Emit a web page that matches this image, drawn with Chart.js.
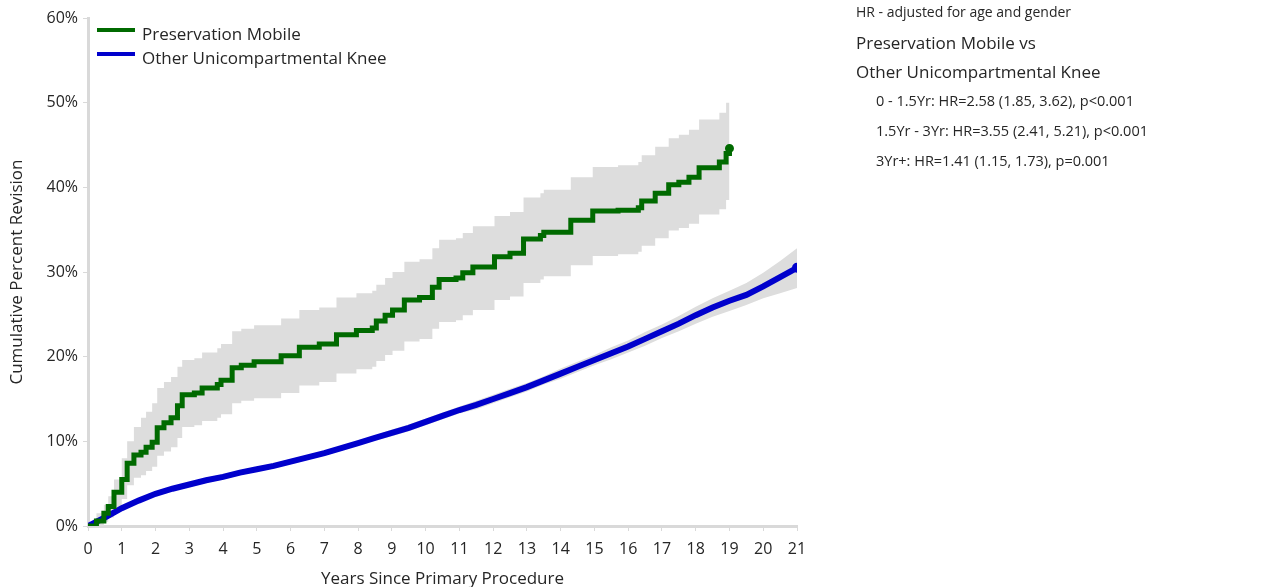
<!DOCTYPE html>
<html>
<head>
<meta charset="utf-8">
<script src="https://cdn.jsdelivr.net/npm/chart.js@4"></script>
<style>
    body { margin: 0; background: #fff; font-family: "Open Sans", sans-serif; color: #262626; }
    .wrap { position: relative; width: 1277px; height: 587px; }
    .legend { position: absolute; left: 97px; top: 22px; font-size: 17px; }
    .legend-item { position: relative; height: 24px; line-height: 24px; padding-left: 45px; white-space: nowrap; }
    .legend-item span { position: absolute; left: 0; top: 6px; width: 38px; height: 4px; }
    .notes { position: absolute; left: 856px; top: 0; white-space: nowrap; }
    .notes .small { font-size: 14px; height: 28px; line-height: 24px; }
    .notes .big { font-size: 17px; height: 29px; line-height: 29px; }
    .notes .sub { font-size: 14.5px; height: 30px; line-height: 30px; padding-left: 20px; }
</style>
</head>
<body>
<div class="wrap">
    <canvas id="revisionChart" width="1277" height="587"></canvas>
    <div class="legend">
        <div class="legend-item"><span style="background:#006a00"></span>Preservation Mobile</div>
        <div class="legend-item"><span style="background:#0000cc"></span>Other Unicompartmental Knee</div>
    </div>
    <div class="notes">
        <div class="small">HR - adjusted for age and gender</div>
        <div class="big">Preservation Mobile vs</div>
        <div class="big">Other Unicompartmental Knee</div>
        <div class="sub">0 - 1.5Yr: HR=2.58 (1.85, 3.62), p&lt;0.001</div>
        <div class="sub">1.5Yr - 3Yr: HR=3.55 (2.41, 5.21), p&lt;0.001</div>
        <div class="sub">3Yr+: HR=1.41 (1.15, 1.73), p=0.001</div>
    </div>
</div>
<script>
// Preservation Mobile (curva em degraus)
const pmYears = [0, 0.25, 0.47, 0.6, 0.77, 1.0, 1.16, 1.36, 1.57, 1.72, 1.9, 2.05, 2.25, 2.46, 2.65, 2.79, 3.15, 3.38, 3.83, 3.94,
    4.27, 4.54, 4.92, 5.72, 6.26, 6.85, 7.36, 7.95, 8.42, 8.54, 8.8, 9.02, 9.37, 9.82, 10.2, 10.4, 10.9, 11.1, 11.4, 12.04,
    12.5, 12.9, 13.4, 13.5, 14.3, 14.95, 15.7, 16.3, 16.4, 16.8, 17.2, 17.5, 17.8, 18.1, 18.7, 18.9, 19.0];
const pmValues = [0, 0.6, 1.5, 2.3, 4.0, 5.5, 7.4, 8.4, 8.7, 9.3, 9.9, 11.6, 12.2, 12.8, 14.2, 15.5, 15.7, 16.3, 16.7, 17.2,
    18.7, 19.0, 19.4, 20.1, 21.1, 21.5, 22.6, 23.1, 23.4, 24.2, 24.9, 25.5, 26.7, 27.0, 28.2, 29.1, 29.3, 29.9, 30.6, 31.8,
    32.2, 33.9, 34.3, 34.7, 36.1, 37.2, 37.3, 37.6, 38.4, 39.3, 40.3, 40.6, 41.2, 42.3, 43.0, 44.0, 44.6];
const pmUpper = [0, 1.5, 2.5, 3.5, 5.5, 8.0, 10.0, 11.7, 12.8, 13.5, 14.5, 16.3, 17.0, 17.6, 18.8, 19.6, 19.8, 20.5, 21.0, 21.5,
    23.0, 23.3, 23.7, 24.5, 25.5, 25.8, 27.0, 27.5, 27.8, 28.5, 29.3, 30.0, 31.2, 31.5, 32.8, 33.8, 34.0, 34.6, 35.4, 36.6,
    37.1, 38.8, 39.3, 39.7, 41.2, 42.4, 42.6, 43.0, 43.8, 44.8, 45.8, 46.2, 46.8, 48.0, 48.8, 50.0, 50.5];
const pmLower = [0, 0, 0.5, 1.0, 2.0, 3.2, 4.8, 5.7, 6.0, 6.5, 7.0, 8.3, 8.8, 9.3, 10.4, 11.7, 11.9, 12.4, 12.8, 13.2,
    14.5, 14.8, 15.1, 15.7, 16.6, 17.0, 18.0, 18.5, 18.8, 19.5, 20.2, 20.7, 21.8, 22.1, 23.3, 24.1, 24.3, 24.9, 25.5, 26.7,
    27.1, 28.7, 29.1, 29.5, 30.8, 31.9, 32.1, 32.4, 33.1, 34.0, 34.9, 35.2, 35.7, 36.8, 37.4, 38.5, 39.1];

// Other Unicompartmental Knee
const ukYears = [0, 0.5, 1, 1.5, 2, 2.5, 3, 3.5, 4, 4.5, 5, 5.5, 6, 6.5, 7, 7.5, 8, 8.5, 9, 9.5, 10,
    10.5, 11, 11.5, 12, 12.5, 13, 13.5, 14, 14.5, 15, 15.5, 16, 16.5, 17, 17.5, 18, 18.5, 19, 19.5, 20, 20.5, 21];
const ukValues = [0, 1.0, 2.1, 3.0, 3.8, 4.4, 4.9, 5.4, 5.8, 6.3, 6.7, 7.1, 7.6, 8.1, 8.6, 9.2, 9.8, 10.4, 11.0, 11.6, 12.3,
    13.0, 13.7, 14.3, 15.0, 15.7, 16.4, 17.2, 18.0, 18.8, 19.6, 20.4, 21.2, 22.1, 23.0, 23.9, 24.9, 25.8, 26.6, 27.3, 28.3, 29.4, 30.5];
const ukUpper = [0, 1.2, 2.4, 3.3, 4.1, 4.7, 5.2, 5.7, 6.1, 6.6, 7.0, 7.4, 7.9, 8.4, 8.9, 9.5, 10.1, 10.7, 11.4, 12.0, 12.7,
    13.4, 14.1, 14.8, 15.5, 16.2, 16.9, 17.7, 18.6, 19.4, 20.2, 21.1, 21.9, 22.9, 23.8, 24.8, 25.9, 26.9, 27.8, 28.7, 29.9, 31.3, 32.8];
const ukLower = [0, 0.8, 1.8, 2.7, 3.5, 4.1, 4.6, 5.1, 5.5, 6.0, 6.4, 6.8, 7.3, 7.8, 8.3, 8.9, 9.5, 10.1, 10.6, 11.2, 11.9,
    12.6, 13.3, 13.8, 14.5, 15.2, 15.9, 16.7, 17.4, 18.2, 19.0, 19.7, 20.5, 21.3, 22.2, 23.0, 23.9, 24.7, 25.4, 26.1, 26.9, 27.5, 28.1];

const yTicks = [0, 10, 20, 30, 40, 50, 60];
const xTicks = [0, 1, 2, 3, 4, 5, 6, 7, 8, 9, 10, 11, 12, 13, 14, 15, 16, 17, 18, 19, 20, 21];

const toPoints = (xs, ys) => xs.map((x, i) => ({ x: x, y: ys[i] }));
const axisGrey = '#d9d9d9';
const textColor = '#262626';
const font16 = { family: '"Open Sans", sans-serif', size: 16 };
const font17 = { family: '"Open Sans", sans-serif', size: 17 };

const ctx = document.getElementById('revisionChart').getContext('2d');
const revisionChart = new Chart(ctx, {
    type: 'line',
    data: {
        datasets: [
            {
                label: 'Preservation Mobile',
                data: toPoints(pmYears, pmValues),
                borderColor: '#006a00',
                backgroundColor: '#006a00',
                borderWidth: 5,
                stepped: true,
                pointRadius: c => c.dataIndex === pmYears.length - 1 ? 2 : 0,
                fill: false
            },
            {
                label: 'Other Unicompartmental Knee',
                data: toPoints(ukYears, ukValues),
                borderColor: '#0000cc',
                backgroundColor: '#0000cc',
                borderWidth: 6,
                tension: 0,
                pointRadius: c => c.dataIndex === ukYears.length - 1 ? 2 : 0,
                fill: false
            },
            {
                data: toPoints(pmYears, pmLower),
                borderWidth: 0,
                pointRadius: 0,
                stepped: true,
                fill: false
            },
            {
                data: toPoints(pmYears, pmUpper),
                borderWidth: 0,
                pointRadius: 0,
                stepped: true,
                backgroundColor: '#dddddd',
                fill: '-1'
            },
            {
                data: toPoints(ukYears, ukLower),
                borderWidth: 0,
                pointRadius: 0,
                fill: false
            },
            {
                data: toPoints(ukYears, ukUpper),
                borderWidth: 0,
                pointRadius: 0,
                backgroundColor: '#dddddd',
                fill: '-1'
            }
        ]
    },
    options: {
        responsive: false,
        animation: false,
        layout: { padding: { left: 0, right: 480, top: 18, bottom: 0 } },
        plugins: {
            legend: { display: false },
            tooltip: { enabled: false }
        },
        scales: {
            x: {
                type: 'linear',
                min: 0,
                max: 21,
                afterFit: scale => { scale.height = 61; },
                afterBuildTicks: scale => { scale.ticks = xTicks.map(v => ({ value: v })); },
                ticks: { color: textColor, font: font16, padding: 9, maxRotation: 0, autoSkip: false },
                grid: { display: true, drawOnChartArea: false, drawTicks: true, tickLength: 5, color: axisGrey, lineWidth: 1 },
                border: { display: true, color: axisGrey, width: 3 },
                title: { display: true, text: 'Years Since Primary Procedure', color: textColor, font: font17, padding: { top: 0, bottom: -2 } }
            },
            y: {
                min: 0,
                max: 60,
                afterFit: scale => { scale.width = 88; },
                afterBuildTicks: scale => { scale.ticks = yTicks.map(v => ({ value: v })); },
                ticks: { color: textColor, font: font16, padding: 5, callback: v => v + '%' },
                grid: { display: true, drawOnChartArea: false, drawTicks: true, tickLength: 5, color: axisGrey, lineWidth: 1 },
                border: { display: true, color: axisGrey, width: 3 },
                title: { display: true, text: 'Cumulative Percent Revision', color: textColor, font: font17, padding: 7 }
            }
        }
    }
});
</script>
</body>
</html>
